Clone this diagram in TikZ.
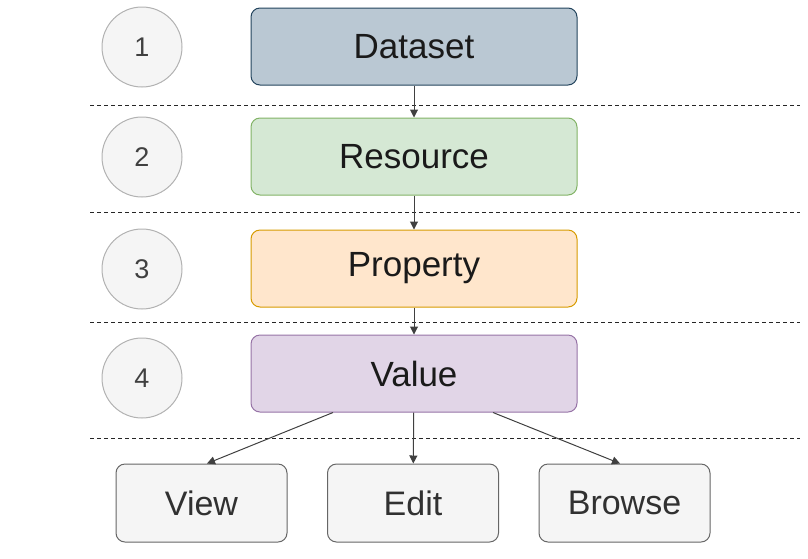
\documentclass[tikz,border=0pt]{standalone}
\usepackage{fontspec}
\setmainfont{Liberation Sans}
\usetikzlibrary{arrows.meta}
\definecolor{dsfill}{HTML}{BAC8D3}\definecolor{dsdraw}{HTML}{23445D}
\definecolor{rsfill}{HTML}{D5E8D4}\definecolor{rsdraw}{HTML}{82B366}
\definecolor{prfill}{HTML}{FFE6CC}\definecolor{prdraw}{HTML}{D79B00}
\definecolor{vafill}{HTML}{E1D5E7}\definecolor{vadraw}{HTML}{9673A6}
\definecolor{grfill}{HTML}{F5F5F5}\definecolor{grdraw}{HTML}{666666}
\definecolor{txt}{HTML}{1A1A1A}
\tikzset{
  layerbox/.style={rounded corners=9pt, minimum width=326pt, minimum height=77pt, line width=1pt, text=txt, font=\fontsize{35}{40}\selectfont},
  leafbox/.style={rounded corners=9pt, minimum width=171pt, minimum height=78pt, line width=1pt, draw=grdraw, fill=grfill, text=txt!90!white, font=\fontsize{34}{38}\selectfont},
  numcirc/.style={circle, minimum size=80pt, draw=black!30, fill=grfill, line width=1pt, text=black!75, font=\fontsize{27}{30}\selectfont},
  sep/.style={dashed, dash pattern=on 4pt off 3pt, line width=1pt, black!85},
  conn/.style={-{Triangle[length=8pt,width=8pt]}, line width=1pt, black!75}
}
\begin{document}
\begin{tikzpicture}[x=1pt,y=-1pt]
\useasboundingbox (0,0) rectangle (808,558);
% separators
\coordinate (s1a) at (90,105); \coordinate (s1b) at (800,105);
\coordinate (s2a) at (90,212); \coordinate (s2b) at (800,212);
\coordinate (s3a) at (90,322); \coordinate (s3b) at (800,322);
\coordinate (s4a) at (90,438); \coordinate (s4b) at (800,438);
\draw[sep] (s1a) -- (s1b);
\draw[sep] (s2a) -- (s2b);
\draw[sep] (s3a) -- (s3b);
\draw[sep] (s4a) -- (s4b);
% circles
\node[numcirc] (c1) at (142,47) {1};
\node[numcirc] (c2) at (142,157) {2};
\node[numcirc] (c3) at (142,269) {3};
\node[numcirc] (c4) at (142,378) {4};
% layer boxes
\node[layerbox, draw=dsdraw, fill=dsfill] (ds) at (414,46.5) {Dataset};
\node[layerbox, draw=rsdraw, fill=rsfill] (rs) at (414,156.5) {Resource};
\node[layerbox, draw=prdraw, fill=prfill] (pr) at (414,268.5) {Property};
\node[layerbox, draw=vadraw, fill=vafill] (va) at (414,373.5) {Value};
% leaves
\node[leafbox] (vw) at (201.5,503) {View};
\node[leafbox] (ed) at (413,503) {Edit};
\node[leafbox] (br) at (624.5,503) {Browse};
% connectors
\draw[conn] (ds) -- (rs);
\draw[conn] (rs) -- (pr);
\draw[conn] (pr) -- (va);
\draw[conn] (va.south -| 333,0) -- (vw.north -| 207,0);
\draw[conn] (va) -- (ed);
\draw[conn] (va.south -| 493,0) -- (br.north -| 620,0);
\end{tikzpicture}
\end{document}
